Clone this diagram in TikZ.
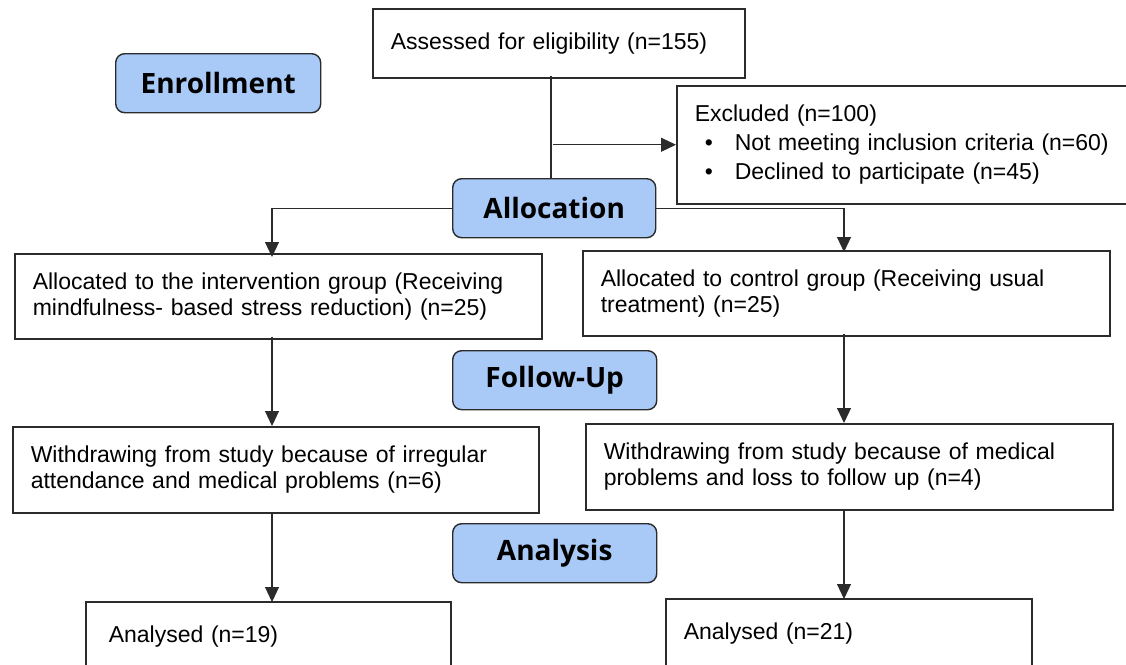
\documentclass[tikz,border=0pt]{standalone}
\usepackage{fontspec}
\setmainfont{Liberation Sans}
\newfontfamily\stagefont{Open Sans}
\usetikzlibrary{arrows.meta,calc}
\definecolor{stagefill}{HTML}{A9C9F7}
\definecolor{ln}{HTML}{2B2B2B}
\begin{document}
\begin{tikzpicture}[x=1pt,y=-1pt,
  box/.style={draw=ln,line width=1.5pt,fill=white,rectangle,inner xsep=18pt,inner ysep=0pt,
     align=left,font=\fontsize{23}{26}\selectfont,anchor=north west},
  stage/.style={draw=ln,line width=1.4pt,fill=stagefill,rounded corners=9pt,
     minimum width=204pt,minimum height=59pt,anchor=north west,
     font=\stagefont\bfseries\fontsize{28}{30}\selectfont},
  arr/.style={draw=ln,line width=1.1pt,-{Triangle[length=15pt,width=14pt]}},
  con/.style={draw=ln,line width=1.1pt}]
\useasboundingbox (0,0) rectangle (1126,664);
\clip (0,0) rectangle (1126,664);
\coordinate (colL) at (272,0);
\coordinate (colR) at (844,0);
\coordinate (colM) at (551,0);
% boxes
\node[box,minimum width=372pt,minimum height=69pt,text width=336pt] (assess) at (372,8) {Assessed for eligibility (n=155)};
\node[stage,minimum width=205pt] (enroll) at (115,53) {Enrollment};
\node[box,minimum width=470pt,minimum height=118pt,text width=434pt] (excl) at (676,85)
  {Excluded (n=100)\\[3pt]\hspace*{10pt}\textbullet\hspace*{22pt}Not meeting inclusion criteria (n=60)\\[3pt]\hspace*{10pt}\textbullet\hspace*{22pt}Declined to participate (n=45)};
\node[stage,minimum width=203pt] (alloc) at (452,178) {Allocation};
\node[box,minimum width=527pt,minimum height=85pt,text width=491pt] (al1) at (14,253)
  {Allocated to the intervention group (Receiving\\mindfulness- based stress reduction) (n=25)};
\node[box,minimum width=527pt,minimum height=85pt,text width=491pt] (al2) at (582,250)
  {Allocated to control group (Receiving usual\\treatment) (n=25)};
\node[stage] (follow) at (452,350) {Follow-Up};
\node[box,minimum width=526pt,minimum height=86pt,text width=490pt] (wd1) at (12,426)
  {Withdrawing from study because of irregular\\attendance and medical problems (n=6)};
\node[box,minimum width=527pt,minimum height=86pt,text width=491pt] (wd2) at (585,423)
  {Withdrawing from study because of medical\\problems and loss to follow up (n=4)};
\node[stage] (anal) at (452,523) {Analysis};
\node[box,minimum width=365pt,minimum height=116pt,text width=319pt,inner xsep=23pt] (an1) at (85,601)
  {Analysed (n=19)\\\mbox{}\\\mbox{}};
\node[box,minimum width=366pt,minimum height=116pt,text width=330pt,inner xsep=18pt] (an2) at (665,598)
  {Analysed (n=21)\\\mbox{}\\\mbox{}};
% connectors
\coordinate (jn) at (colM |- excl.west);
\draw[con] ([yshift=3pt]colM |- assess.south) -- (colM |- alloc.north);
\draw[arr] ([xshift=2pt]jn) -- (excl.west);
\draw[arr] (alloc.west) -| ([yshift=-4pt]al1.north -| colL);
\draw[arr] (alloc.east) -| ([yshift=-2pt]al2.north -| colR);
\draw[arr] ([yshift=3pt]al1.south -| colL) -- (wd1.north -| colL);
\draw[arr] ([yshift=3pt]al2.south -| colR) -- (wd2.north -| colR);
\draw[arr] ([yshift=2pt]wd1.south -| colL) -- ([yshift=-1pt]an1.north -| colL);
\draw[arr] ([yshift=2pt]wd2.south -| colR) -- ([yshift=-1pt]an2.north -| colR);
\end{tikzpicture}
\end{document}
